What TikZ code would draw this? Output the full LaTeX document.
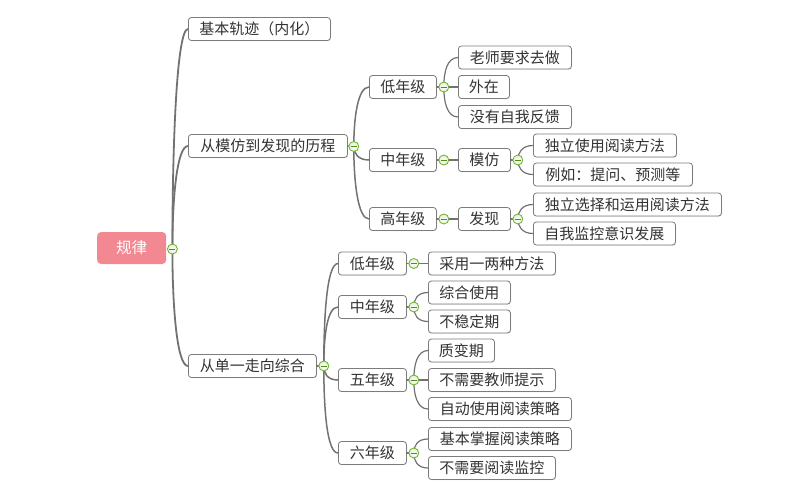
\documentclass[tikz,border=0pt]{standalone}
\usepackage{fontspec}
\setmainfont{Noto Sans CJK SC}
\usetikzlibrary{calc,shadows}
\definecolor{boxline}{HTML}{7C7C7C}
\definecolor{txt}{HTML}{333333}
\definecolor{linec}{HTML}{727272}
\definecolor{rootfill}{HTML}{F28891}
\definecolor{togline}{HTML}{6FAE2E}
\definecolor{togfill}{HTML}{E4F4D2}
\definecolor{togminus}{HTML}{4E8F1C}
\newcommand\lnk[3][1.2pt]{\draw[conn,line width=#1] (#2.center) .. controls ($(#2.center)!0.5!(#2.center |- #3.west)$) and ($(#3.west)+(-11,0)$) .. (#3.west);}
\begin{document}
\begin{tikzpicture}[x=1pt,y=-1pt,
  box/.style={draw=boxline, line width=0.8pt, rounded corners=3pt, fill=white, anchor=west,
    minimum height=23pt, inner sep=0pt, font=\fontsize{15}{17}\selectfont, text=txt,
    drop shadow={shadow xshift=0.7pt, shadow yshift=-0.7pt, fill=black, opacity=0.12}},
  rootbox/.style={rounded corners=4pt, fill=rootfill, anchor=west, minimum height=32pt,
    inner sep=0pt, font=\fontsize{15.5}{17}\selectfont, text=white},
  conn/.style={draw=linec, line cap=round},
  tog/.style={circle, draw=togline, line width=0.8pt, inner sep=0pt, minimum size=10pt,
    inner color=white, outer color=togfill!80!togline!60,
    path picture={\draw[togminus, line width=0.9pt] ($(path picture bounding box.center)+(-3,0)$) -- +(6,0);}}]
\useasboundingbox (0,0) rectangle (800,498);
% nodes
\node[rootbox, minimum width=69pt] (R) at (97,248) {规律};
\node[box, minimum width=142pt] (A) at (188,29) {基本轨迹（内化）};
\node[box, minimum width=159pt] (B) at (188,146) {从模仿到发现的历程};
\node[box, minimum width=128pt] (C) at (188,366) {从单一走向综合};
% B branch
\node[box, minimum width=67pt] (B1) at (369,87) {低年级};
\node[box, minimum width=113pt] (B11) at (458,57.5) {老师要求去做};
\node[box, minimum width=51pt] (B12) at (458,87) {外在};
\node[box, minimum width=113pt] (B13) at (458,117) {没有自我反馈};
\node[box, minimum width=67pt] (B2) at (369,160) {中年级};
\node[box, minimum width=52pt] (B21) at (458,160) {模仿};
\node[box, minimum width=143pt] (B211) at (533,145.5) {独立使用阅读方法};
\node[box, minimum width=159pt] (B212) at (533,174.5) {例如：提问、预测等};
\node[box, minimum width=67pt] (B3) at (369,219) {高年级};
\node[box, minimum width=52pt] (B31) at (458,219) {发现};
\node[box, minimum width=188pt] (B311) at (533,204.5) {独立选择和运用阅读方法};
\node[box, minimum width=142pt] (B312) at (533,233.5) {自我监控意识发展};
% C branch
\node[box, minimum width=68pt] (C1) at (338,263.5) {低年级};
\node[box, minimum width=127pt] (C11) at (428,263.5) {采用一两种方法};
\node[box, minimum width=68pt] (C2) at (338,307) {中年级};
\node[box, minimum width=82pt] (C21) at (428,292.5) {综合使用};
\node[box, minimum width=82pt] (C22) at (428,321.5) {不稳定期};
\node[box, minimum width=68pt] (C3) at (338,380) {五年级};
\node[box, minimum width=66pt] (C31) at (428,350.5) {质变期};
\node[box, minimum width=127pt] (C32) at (428,380) {不需要教师提示};
\node[box, minimum width=143pt] (C33) at (428,409) {自动使用阅读策略};
\node[box, minimum width=68pt] (C4) at (338,453) {六年级};
\node[box, minimum width=143pt] (C41) at (428,439) {基本掌握阅读策略};
\node[box, minimum width=127pt] (C42) at (428,468) {不需要阅读监控};
% toggle positions
\coordinate (tR) at ($(R.east)+(6,1)$);
\coordinate (tB) at ($(B.east)+(6,0.5)$);
\coordinate (tC) at ($(C.east)+(7,0)$);
\coordinate (tB1) at ($(B1.east)+(7,0)$);
\coordinate (tB2) at ($(B2.east)+(7,0)$);
\coordinate (tB21) at ($(B21.east)+(7,0)$);
\coordinate (tB3) at ($(B3.east)+(7,0)$);
\coordinate (tB31) at ($(B31.east)+(7,0)$);
\coordinate (tC1) at ($(C1.east)+(7,0)$);
\coordinate (tC2) at ($(C2.east)+(7,0)$);
\coordinate (tC3) at ($(C3.east)+(7,0)$);
\coordinate (tC4) at ($(C4.east)+(7,0)$);
% connectors
\lnk[1.8pt]{tR}{A}
\lnk[1.8pt]{tR}{B}
\lnk[1.8pt]{tR}{C}
\lnk[1.5pt]{tB}{B1}
\lnk[1.5pt]{tB}{B2}
\lnk[1.5pt]{tB}{B3}
\lnk{tB1}{B11}
\lnk{tB1}{B12}
\lnk{tB1}{B13}
\lnk{tB2}{B21}
\lnk{tB21}{B211}
\lnk{tB21}{B212}
\lnk{tB3}{B31}
\lnk{tB31}{B311}
\lnk{tB31}{B312}
\lnk[1.5pt]{tC}{C1}
\lnk[1.5pt]{tC}{C2}
\lnk[1.5pt]{tC}{C3}
\lnk[1.5pt]{tC}{C4}
\lnk{tC1}{C11}
\lnk{tC2}{C21}
\lnk{tC2}{C22}
\lnk{tC3}{C31}
\lnk{tC3}{C32}
\lnk{tC3}{C33}
\lnk{tC4}{C41}
\lnk{tC4}{C42}
% stubs from boxes to toggles
\foreach \n in {B,C,B1,B2,B21,B3,B31,C1,C2,C3,C4} {\draw[conn,line width=1.2pt] (\n.east) -- (t\n);}
% toggles
\foreach \n in {R,B,C,B1,B2,B21,B3,B31,C1,C2,C3,C4} {\node[tog] (g\n) at (t\n) {};}
\end{tikzpicture}
\end{document}
